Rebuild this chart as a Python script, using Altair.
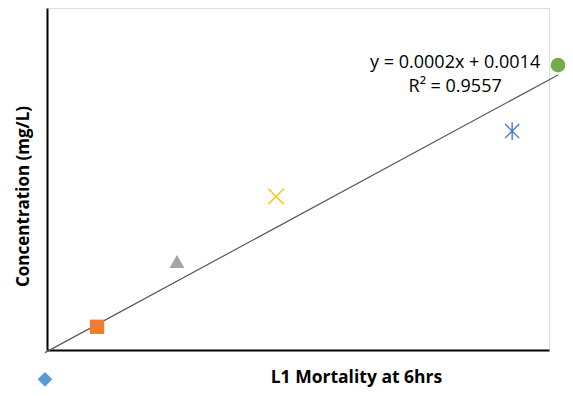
import altair as alt
import pandas as pd

# data (arbitrary units, axis domain 0..100)
series = ["S1", "S2", "S3", "S4", "S5", "S6"]
x_vals = [-0.40, 9.96, 25.89, 45.63, 92.66, 101.79]
y_vals = [-8.58, 6.79, 25.87, 44.88, 64.02, 83.29]
colors = ["#5B9BD5", "#ED7D31", "#A5A5A5", "#FFC000", "#4472C4", "#70AD47"]

eq_lines = ["y = 0.0002x + 0.0014", "R² = 0.9557"]
eq_x = [81.3, 81.3]
eq_y = [83.8, 76.8]

df = pd.DataFrame({"series": series, "x": x_vals, "y": y_vals})
eq_df = pd.DataFrame({"label": eq_lines, "x": eq_x, "y": eq_y})

xs = alt.Scale(domain=[0, 100], nice=False, zero=False)
ys = alt.Scale(domain=[0, 100], nice=False, zero=False)

x_axis = alt.Axis(title="L1 Mortality at 6hrs", labels=False, ticks=False, grid=False,
                  domainColor="#000000", domainWidth=2,
                  titleFont="Open Sans", titleFontSize=17.5, titleFontWeight="bold",
                  titleColor="#000000", titleX=309, titleY=32,
                  titleBaseline="alphabetic", titleAlign="center")
y_axis = alt.Axis(title="Concentration (mg/L)", labels=False, ticks=False, grid=False,
                  domainColor="#000000", domainWidth=2,
                  titleFont="Open Sans", titleFontSize=17, titleFontWeight="bold",
                  titleColor="#000000", titleX=-19, titleY=188, titleAngle=-90,
                  titleBaseline="alphabetic", titleAlign="center")

base = alt.Chart(df)

axes_layer = base.mark_point(opacity=0).encode(
    x=alt.X("x:Q", scale=xs, axis=x_axis),
    y=alt.Y("y:Q", scale=ys, axis=y_axis),
)

trend = base.transform_regression("x", "y").mark_line(
    color="#595959", strokeWidth=1.2, clip=False
).encode(x=alt.X("x:Q", scale=xs), y=alt.Y("y:Q", scale=ys))

def pts(idx, shape, size, filled=True, sw=1.0):
    sub = alt.Chart(df).transform_filter(alt.datum.series == series[idx])
    if filled:
        m = sub.mark_point(shape=shape, size=size, filled=True, color=colors[idx],
                           opacity=1, clip=False)
    else:
        m = sub.mark_point(shape=shape, size=size, filled=False, color=colors[idx],
                           strokeWidth=sw, opacity=1, clip=False)
    return m.encode(x=alt.X("x:Q", scale=xs), y=alt.Y("y:Q", scale=ys))

p1 = pts(0, "diamond", 216)
p2 = pts(1, "square", 205)
p3 = pts(2, "triangle-up", 225)
p4 = pts(3, "M-1,-1L1,1M-1,1L1,-1", 240, filled=False, sw=1.3)
p5 = pts(4, "M-1,-1L1,1M-1,1L1,-1M0,-1.25L0,1.25", 200, filled=False, sw=1.3)
p6 = pts(5, "circle", 216)

eq = alt.Chart(eq_df).mark_text(font="Open Sans", fontSize=18, color="#000000",
                                align="center", baseline="middle").encode(
    x=alt.X("x:Q", scale=xs), y=alt.Y("y:Q", scale=ys), text="label:N")

chart = alt.layer(axes_layer, trend, p1, p2, p3, p4, p5, p6, eq).properties(
    width=502, height=342,
    autosize=alt.AutoSizeParams(type="none"),
    padding={"left": 39, "top": 0, "right": 16, "bottom": 38},
).configure_view(stroke=None).configure(background="#ffffff")

chart.save("out.html", embed_options={"renderer": "svg", "actions": False})
